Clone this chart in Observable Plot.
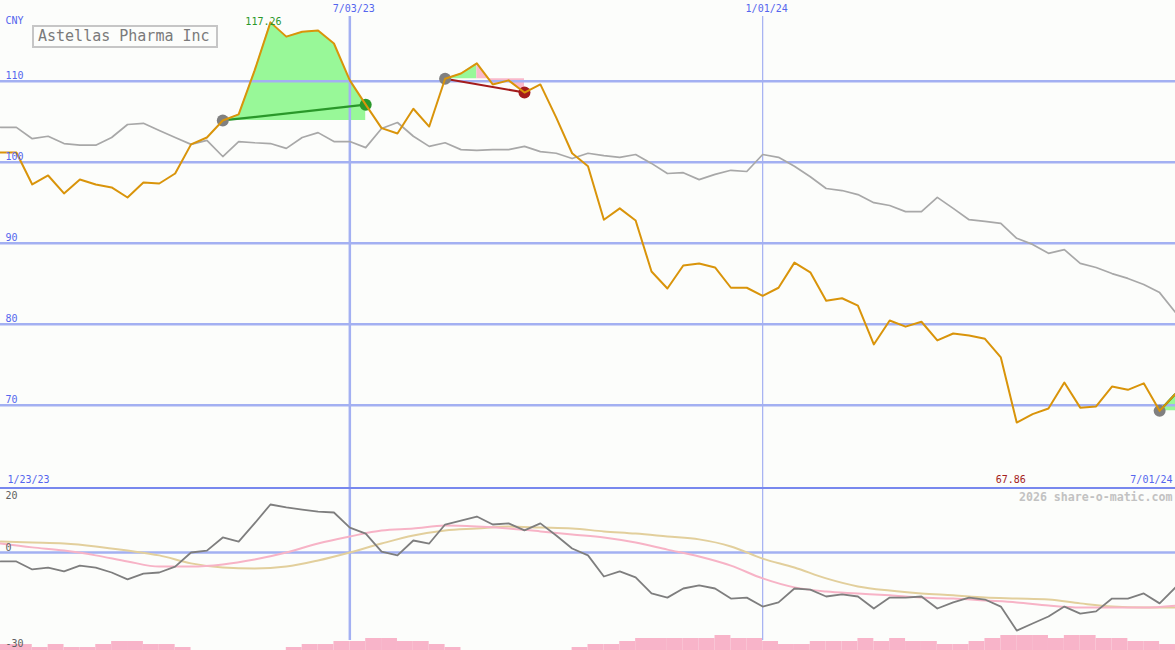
<!DOCTYPE html>
<html><head><meta charset="utf-8">
<script src="https://cdn.jsdelivr.net/npm/d3@7"></script>
<script src="https://cdn.jsdelivr.net/npm/@observablehq/plot@0.6"></script>
<style>
body{margin:0;background:#fcfdfb;}
#wrap{position:relative;width:1175px;height:650px;overflow:hidden;background:#fcfdfb;font-family:"DejaVu Sans Mono",monospace;}
#upper{position:absolute;left:0;top:0;}
#sep{position:absolute;left:0;top:487px;width:1175px;height:2px;background:#7888ee;}
#lower{position:absolute;left:0;top:489px;}
#vol{position:absolute;left:0;top:634px;}
#title{position:absolute;left:32px;top:25px;width:186px;height:23px;box-sizing:border-box;border:2px solid #c6c6c6;color:#7a7a7a;font-size:15px;line-height:19px;padding-left:4px;white-space:nowrap;background:#fcfdfb;}
svg{display:block;}
</style>
</head><body>
<div id="wrap">
  <div id="upper"></div>
  <div id="vol"></div>
  <div id="lower"></div>
  <div id="sep"></div>
  <div id="title"></div>
</div>
<script>
// ---------- data ----------
const chartTitle = "Astellas Pharma Inc";
const currency = "CNY";
const firstWeek = "2023-01-30";           // weekly points (Mondays)
const rangeLabels = ["1/23/23", "7/01/24"];
const dateTicks = ["2023-07-03", "2024-01-01"];
const priceTicks = [70, 80, 90, 100, 110];
const oscTicks = [20, 0, -30];
const watermark = "2026 share-o-matic.com";

const price = [101.2,101.2,97.25,98.36,96.14,97.86,97.25,96.88,95.64,97.49,
  97.37,98.6,102.2,103.05,105.15,105.9,111.3,117.26,115.5,116.1,
  116.25,114.65,110.1,107.1,104.2,103.55,106.6,104.4,110.3,110.95,
  112.2,109.6,110.1,108.6,109.6,105.5,101.1,99.5,92.9,94.3,
  92.8,86.5,84.4,87.25,87.5,87.0,84.5,84.5,83.5,84.5,
  87.6,86.4,82.9,83.2,82.3,77.5,80.45,79.7,80.3,78.0,
  78.85,78.6,78.2,75.9,67.86,68.9,69.6,72.8,69.7,69.85,
  72.3,71.9,72.7,69.3,71.4];

const benchmark = [104.3,104.3,102.9,103.2,102.3,102.1,102.1,103.05,104.65,104.8,
  103.9,103.05,102.2,102.7,100.7,102.55,102.4,102.3,101.7,103.05,
  103.65,102.55,102.55,101.8,104.15,104.9,103.2,101.95,102.4,101.55,
  101.45,101.55,101.55,101.95,101.3,101.1,100.45,101.1,100.8,100.6,
  100.95,99.85,98.6,98.7,97.85,98.5,99.0,98.85,100.95,100.6,
  99.5,98.2,96.75,96.5,96.0,95.0,94.65,93.9,93.9,95.65,
  94.3,92.9,92.7,92.45,90.6,89.85,88.75,89.2,87.5,87.0,
  86.25,85.65,84.9,83.9,81.45];

const oscillator = [-2.8,-2.8,-5.3,-4.7,-5.9,-4.1,-4.7,-6.25,-8.4,-6.6,
  -6.25,-4.4,0,0.6,4.7,3.4,9.1,15,14.1,13.4,
  12.8,12.5,7.8,5.9,0.3,-0.9,3.75,2.8,8.75,10,
  11.25,8.75,9.1,6.9,9.1,5.3,1.25,-0.9,-7.5,-5.9,
  -7.8,-12.8,-14.1,-11.25,-10.3,-11.25,-14.4,-14.1,-16.9,-15.6,
  -11.25,-11.6,-13.75,-13.1,-13.75,-17.5,-14.1,-14.1,-13.75,-17.5,
  -15.6,-14.1,-14.7,-16.9,-24.4,-22.2,-20,-16.9,-19.1,-18.4,
  -14.4,-14.4,-12.8,-15.9,-10.9];

// smooth averages, read every second week
const avgFast = [2.8,1.6,0.6,-0.9,-2.8,-4.4,-4.4,-3.75,-2.2,0,
  2.8,5,6.9,7.5,8.4,8.1,7.5,6.6,5.6,4.7,
  3.1,0.9,-1.25,-4.1,-8.1,-10.9,-12.2,-12.8,-13.4,-14.1,
  -14.4,-15,-15.6,-16.6,-17.2,-17.2,-17.2,-16.6];
const avgSlow = [3.4,3.1,2.8,1.9,0.6,-0.9,-3.4,-4.7,-5,-4.4,
  -2.5,0,2.8,5.3,6.9,7.5,8.1,7.8,7.5,6.6,
  5.9,5,4.1,1.9,-1.9,-4.7,-8.1,-10.6,-11.9,-12.8,
  -13.4,-14.1,-14.4,-14.7,-15.9,-16.9,-17.2,-17.2];

// weekly volume level (bar i spans week i .. week i+1)
const volume = [2,2,1,2,1,1,2,3,3,2, 2,1,0,0,0,0,0,0,1,2,
  2,3,3,4,4,3,3,2,1,0, 0,0,0,0,0,0,1,2,2,3,
  4,4,4,4,4,5,4,4,3,2, 2,3,3,3,4,3,4,3,3,2,
  2,3,4,5,5,5,4,5,5,4, 4,3,3,2];

// signal highlights (week indices)
const hlFrom = [14, 28, 73];
const hlTo = [23, 33, 74];
const hlGreenTo = [23, 30, 74];
const hlEndDot = [true, true, false];

// ---------- helpers ----------
const t0 = new Date(firstWeek + "T00:00:00Z");
const week = i => new Date(t0.getTime() + i * 7 * 864e5);
const fmt = d3.utcFormat("%-m/%d/%y");
const tickDates = dateTicks.map(s => new Date(s + "T00:00:00Z"));
const W = 1175;
const xScale = {type: "utc", domain: [week(0), week(price.length - 1)], axis: null};

const C = {
  grid: "#a3b0f2", label: "#5566ee", orange: "#d9940a", bench: "#a8a8a8",
  green: "#2a982a", greenFill: "#98f898", pinkFill: "#f9b9cb", red: "#a41c1c",
  dot: "#808080", osc: "#7e7e7e", fast: "#f7b3c6", slow: "#e2cf9c", vol: "#f8b4c9"
};

const priceRows = price.map((p, i) => ({date: week(i), p, b: benchmark[i]}));

const areaGreen = [], areaPink = [];
hlFrom.forEach((f, k) => {
  const base = price[f];
  for (let i = f; i <= hlGreenTo[k]; i++) areaGreen.push({key: k, date: week(i), base, p: price[i]});
  if (hlGreenTo[k] < hlTo[k])
    for (let i = hlGreenTo[k]; i <= hlTo[k]; i++) areaPink.push({key: k, date: week(i), base, p: price[i]});
});
const hl = hlFrom.map((f, k) => ({
  d1: week(f), p1: price[f], d2: week(hlTo[k]), p2: price[hlTo[k]],
  up: price[hlTo[k]] >= price[f], endDot: hlEndDot[k]
}));

const maxIdx = d3.maxIndex(price), minIdx = d3.minIndex(price);

// ---------- upper panel ----------
const upperChart = Plot.plot({
  width: W, height: 487, marginTop: 0, marginBottom: 0, marginLeft: 0, marginRight: 0,
  style: {background: "transparent", fontFamily: "DejaVu Sans Mono, monospace", fontSize: "10px"},
  x: xScale,
  y: {domain: [59.84, 119.96], axis: null},
  marks: [
    Plot.areaY(areaGreen, {x: "date", y1: "base", y2: "p", z: "key", fill: C.greenFill, curve: "linear"}),
    Plot.areaY(areaPink, {x: "date", y1: "base", y2: "p", z: "key", fill: C.pinkFill, curve: "linear"}),
    Plot.ruleY(priceTicks, {stroke: C.grid, strokeWidth: 2.5}),
    Plot.ruleX(tickDates, {stroke: C.grid, strokeWidth: (d, i) => i === 0 ? 2.5 : 1.2, insetTop: 16}),
    Plot.line(priceRows, {x: "date", y: "b", stroke: C.bench, strokeWidth: 1.7}),
    Plot.link(hl, {x1: "d1", y1: "p1", x2: "d2", y2: "p2", stroke: d => d.up ? C.green : C.red, strokeWidth: 2.2}),
    Plot.dot(hl, {x: "d1", y: "p1", r: 6, fill: C.dot}),
    Plot.dot(hl.filter(d => d.endDot), {x: "d2", y: "p2", r: 6, fill: d => d.up ? C.green : C.red}),
    Plot.line(priceRows, {x: "date", y: "p", stroke: C.orange, strokeWidth: 2}),
    Plot.text(priceTicks, {y: d => d, text: d => String(d), frameAnchor: "left", dx: 5, dy: -2, lineAnchor: "bottom", textAnchor: "start", fill: C.label}),
    Plot.text([currency], {text: d => d, frameAnchor: "top-left", dx: 5, dy: 16, textAnchor: "start", fill: C.label}),
    Plot.text(tickDates, {x: d => d, text: d => fmt(d), frameAnchor: "top", dy: 4, dx: 4, fill: C.label}),
    Plot.text([rangeLabels[0]], {text: d => d, frameAnchor: "bottom-left", dx: 7, dy: -5, textAnchor: "start", fill: C.label}),
    Plot.text([rangeLabels[1]], {text: d => d, frameAnchor: "bottom-right", dx: -3, dy: -5, textAnchor: "end", fill: C.label}),
    Plot.text([minIdx], {x: i => week(i), text: i => price[i].toFixed(2), frameAnchor: "bottom", dx: -6, dy: -5, fill: C.red}),
    Plot.text([maxIdx], {x: i => week(i), y: i => price[i], text: i => price[i].toFixed(2), dx: -7, dy: -1, fill: C.green})
  ]
});
document.getElementById("upper").append(upperChart);

// ---------- lower panel ----------
const oscRows = oscillator.map((v, i) => ({date: week(i), v}));
const fastRows = avgFast.map((v, k) => ({date: week(k * 2), v}));
const slowRows = avgSlow.map((v, k) => ({date: week(k * 2), v}));

const lowerChart = Plot.plot({
  width: W, height: 161, marginTop: 0, marginBottom: 0, marginLeft: 0, marginRight: 0,
  style: {background: "transparent", fontFamily: "DejaVu Sans Mono, monospace", fontSize: "10px"},
  x: xScale,
  y: {domain: [-30.63, 19.69], axis: null},
  marks: [
    Plot.ruleY([0], {stroke: C.grid, strokeWidth: 2.5}),
    Plot.ruleX(tickDates, {stroke: C.grid, strokeWidth: (d, i) => i === 0 ? 2.5 : 1.2, insetBottom: 10}),
    Plot.line(slowRows, {x: "date", y: "v", stroke: C.slow, strokeWidth: 2, curve: "monotone-x"}),
    Plot.line(fastRows, {x: "date", y: "v", stroke: C.fast, strokeWidth: 2, curve: "monotone-x"}),
    Plot.line(oscRows, {x: "date", y: "v", stroke: C.osc, strokeWidth: 1.8}),
    Plot.text([oscTicks[0]], {y: d => d, text: d => String(d), frameAnchor: "left", dx: 5, dy: 3, lineAnchor: "top", textAnchor: "start", fill: "#606060"}),
    Plot.text(oscTicks.slice(1), {y: d => d, text: d => String(d), frameAnchor: "left", dx: 5, dy: -1, lineAnchor: "bottom", textAnchor: "start", fill: "#606060"}),
    Plot.text([watermark], {text: d => d, frameAnchor: "top-right", dx: -3, dy: 3, textAnchor: "end", fill: "#c2c2c2", fontWeight: "bold", fontSize: 11.6})
  ]
});
document.getElementById("lower").append(lowerChart);

// ---------- volume bars ----------
const volRows = volume.map((v, i) => ({d1: week(i), d2: week(i + 1), v}));
const volChart = Plot.plot({
  width: W, height: 16, marginTop: 0, marginBottom: 0, marginLeft: 0, marginRight: 0,
  style: {background: "transparent"},
  x: xScale,
  y: {domain: [0, 16 / 3], axis: null},
  marks: [
    Plot.rectY(volRows, {x1: "d1", x2: "d2", y: "v", fill: C.vol, inset: 0})
  ]
});
document.getElementById("vol").append(volChart);

document.getElementById("title").textContent = chartTitle;
</script>
</body></html>
